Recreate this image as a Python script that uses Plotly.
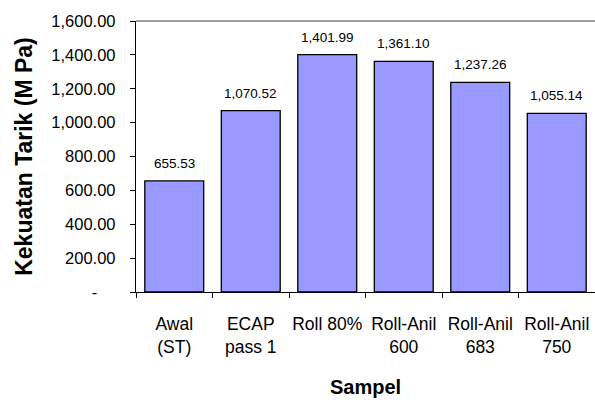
import plotly.graph_objects as go

categories = ["Awal<br>(ST)", "ECAP<br>pass 1", "Roll 80%", "Roll-Anil<br>600", "Roll-Anil<br>683", "Roll-Anil<br>750"]
values = [655.53, 1070.52, 1401.99, 1361.10, 1237.26, 1055.14]
value_labels = ["655.53", "1,070.52", "1,401.99", "1,361.10", "1,237.26", "1,055.14"]
y_tickvals = [0, 200, 400, 600, 800, 1000, 1200, 1400, 1600]
y_ticktext = ["-\u00a0\u00a0\u00a0\u00a0", "200.00", "400.00", "600.00", "800.00",
              "1,000.00", "1,200.00", "1,400.00", "1,600.00"]

FONT = "Liberation Sans, Arial, sans-serif"

fig = go.Figure()
fig.add_trace(go.Bar(
    x=categories, y=values,
    marker=dict(color="#9999FF", line=dict(color="#000000", width=1.3)),
    hoverinfo="skip",
))

for c, v, t in zip(categories, values, value_labels):
    fig.add_annotation(x=c, y=v, text=t, showarrow=False, yanchor="bottom",
                       yshift=8, font=dict(family=FONT, size=13.5, color="#000"))

fig.add_shape(type="line", xref="paper", yref="paper", x0=0, x1=1, y0=1, y1=1,
              line=dict(color="#808080", width=1.5))

fig.update_layout(
    width=595, height=403,
    margin=dict(l=136, r=0, t=21, b=111),
    paper_bgcolor="white", plot_bgcolor="white",
    bargap=0.23,
    showlegend=False,
    font=dict(family=FONT, color="#000"),
    xaxis=dict(
        showline=True, linecolor="#000", linewidth=1.3,
        ticks="outside", tickson="boundaries", ticklen=5, tickcolor="#000", tickwidth=1,
        tickfont=dict(family=FONT, size=17.5, color="#000"),
        tickangle=0,
        ticklabelstandoff=16,
        showgrid=False,
        title=dict(text="<b>Sampel</b>", font=dict(family=FONT, size=20, color="#000"), standoff=24),
        automargin=False,
    ),
    yaxis=dict(
        range=[0, 1600],
        tickvals=y_tickvals, ticktext=y_ticktext,
        showline=True, linecolor="#000", linewidth=1.3,
        ticks="outside", ticklen=5, tickcolor="#000", tickwidth=1,
        tickfont=dict(family=FONT, size=16.5, color="#000"),
        ticklabelstandoff=11,
        showgrid=False, zeroline=False,
        title=dict(text="<b>Kekuatan Tarik (M Pa)</b>", font=dict(family=FONT, size=23, color="#000"), standoff=12),
        automargin=False,
    ),
)

fig.write_html("out.html", config={"displayModeBar": False},
               post_script="document.body.style.margin='0';document.body.style.overflow='hidden';")
